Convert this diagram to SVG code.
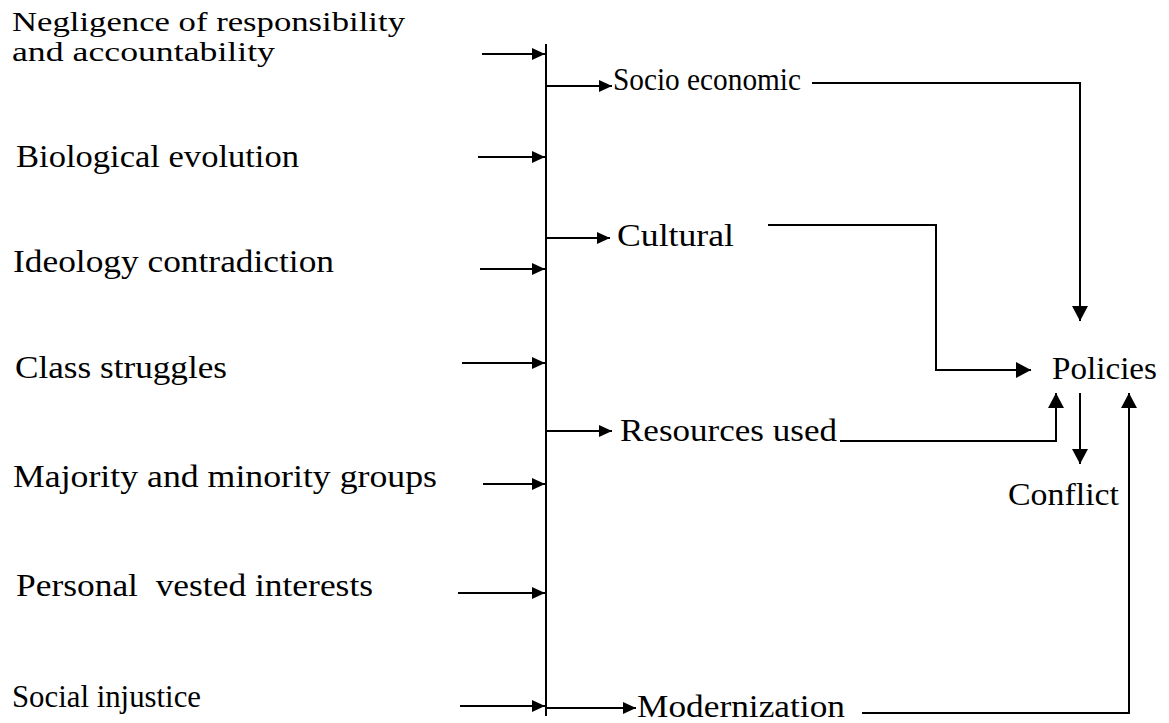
<svg xmlns="http://www.w3.org/2000/svg" width="1169" height="723" viewBox="0 0 1169 723">
<style>
text{font-family:"Liberation Serif","Times New Roman",serif;font-size:31px;fill:#000}
.t2{font-size:27px}
.c{fill:none;stroke:#000;stroke-width:2}
</style>
<defs>
<marker id="a" markerUnits="userSpaceOnUse" markerWidth="14" markerHeight="12" refX="13" refY="6" orient="auto"><path d="M0,0 L13,6 L0,12 Z" fill="#000"/></marker>
<marker id="b" markerUnits="userSpaceOnUse" markerWidth="16" markerHeight="16" refX="15" refY="8" orient="auto"><path d="M0,0 L15,8 L0,16 Z" fill="#000"/></marker>
</defs>
<rect width="1169" height="723" fill="#fff"/>
<g id="n1"><text class="t2"><tspan x="12" y="31" textLength="393" lengthAdjust="spacingAndGlyphs">Negligence of responsibility</tspan><tspan x="12" y="61" textLength="263" lengthAdjust="spacingAndGlyphs">and accountability</tspan></text></g>
<g id="n2"><text x="16" y="167" textLength="283" lengthAdjust="spacingAndGlyphs">Biological evolution</text></g>
<g id="n3"><text x="13" y="272" textLength="321" lengthAdjust="spacingAndGlyphs">Ideology contradiction</text></g>
<g id="n4"><text x="15" y="378" textLength="212" lengthAdjust="spacingAndGlyphs">Class struggles</text></g>
<g id="n5"><text x="13" y="487" textLength="424" lengthAdjust="spacingAndGlyphs">Majority and minority groups</text></g>
<g id="n6"><text x="16" y="596" xml:space="preserve" textLength="357" lengthAdjust="spacingAndGlyphs">Personal  vested interests</text></g>
<g id="n7"><text x="12" y="707" textLength="189" lengthAdjust="spacingAndGlyphs">Social injustice</text></g>
<g id="n8"><text x="613" y="90" textLength="188" lengthAdjust="spacingAndGlyphs">Socio economic</text></g>
<g id="n9"><text x="617" y="246" textLength="117" lengthAdjust="spacingAndGlyphs">Cultural</text></g>
<g id="n10"><text x="620" y="441" textLength="217" lengthAdjust="spacingAndGlyphs">Resources used</text></g>
<g id="n11"><text x="637" y="717" textLength="208" lengthAdjust="spacingAndGlyphs">Modernization</text></g>
<g id="n12"><text x="1052" y="379" textLength="105" lengthAdjust="spacingAndGlyphs">Policies</text></g>
<g id="n13"><text x="1008" y="505" textLength="111" lengthAdjust="spacingAndGlyphs">Conflict</text></g>
<g id="connectors">
<line class="c" x1="546" y1="44" x2="546" y2="716"/>
<line class="c" x1="482" y1="54" x2="545" y2="54" marker-end="url(#a)"/>
<line class="c" x1="478" y1="157" x2="545" y2="157" marker-end="url(#a)"/>
<line class="c" x1="480" y1="269" x2="545" y2="269" marker-end="url(#a)"/>
<line class="c" x1="462" y1="363" x2="545" y2="363" marker-end="url(#a)"/>
<line class="c" x1="483" y1="484" x2="545" y2="484" marker-end="url(#a)"/>
<line class="c" x1="458" y1="593" x2="545" y2="593" marker-end="url(#a)"/>
<line class="c" x1="460" y1="706" x2="545" y2="706" marker-end="url(#a)"/>
<line class="c" x1="547" y1="86" x2="612" y2="86" marker-end="url(#a)"/>
<line class="c" x1="547" y1="238" x2="610" y2="238" marker-end="url(#a)"/>
<line class="c" x1="547" y1="431" x2="612" y2="431" marker-end="url(#a)"/>
<line class="c" x1="547" y1="708" x2="636" y2="708" marker-end="url(#a)"/>
<polyline class="c" points="812,83 1080,83 1080,321" marker-end="url(#b)"/>
<polyline class="c" points="768,225 936,225 936,370 1031,370" marker-end="url(#b)"/>
<polyline class="c" points="840,441 1056,441 1056,393" marker-end="url(#b)"/>
<line class="c" x1="1080" y1="393" x2="1080" y2="464" marker-end="url(#b)"/>
<polyline class="c" points="862,713 1129,713 1129,393" marker-end="url(#b)"/>
</g>
</svg>
